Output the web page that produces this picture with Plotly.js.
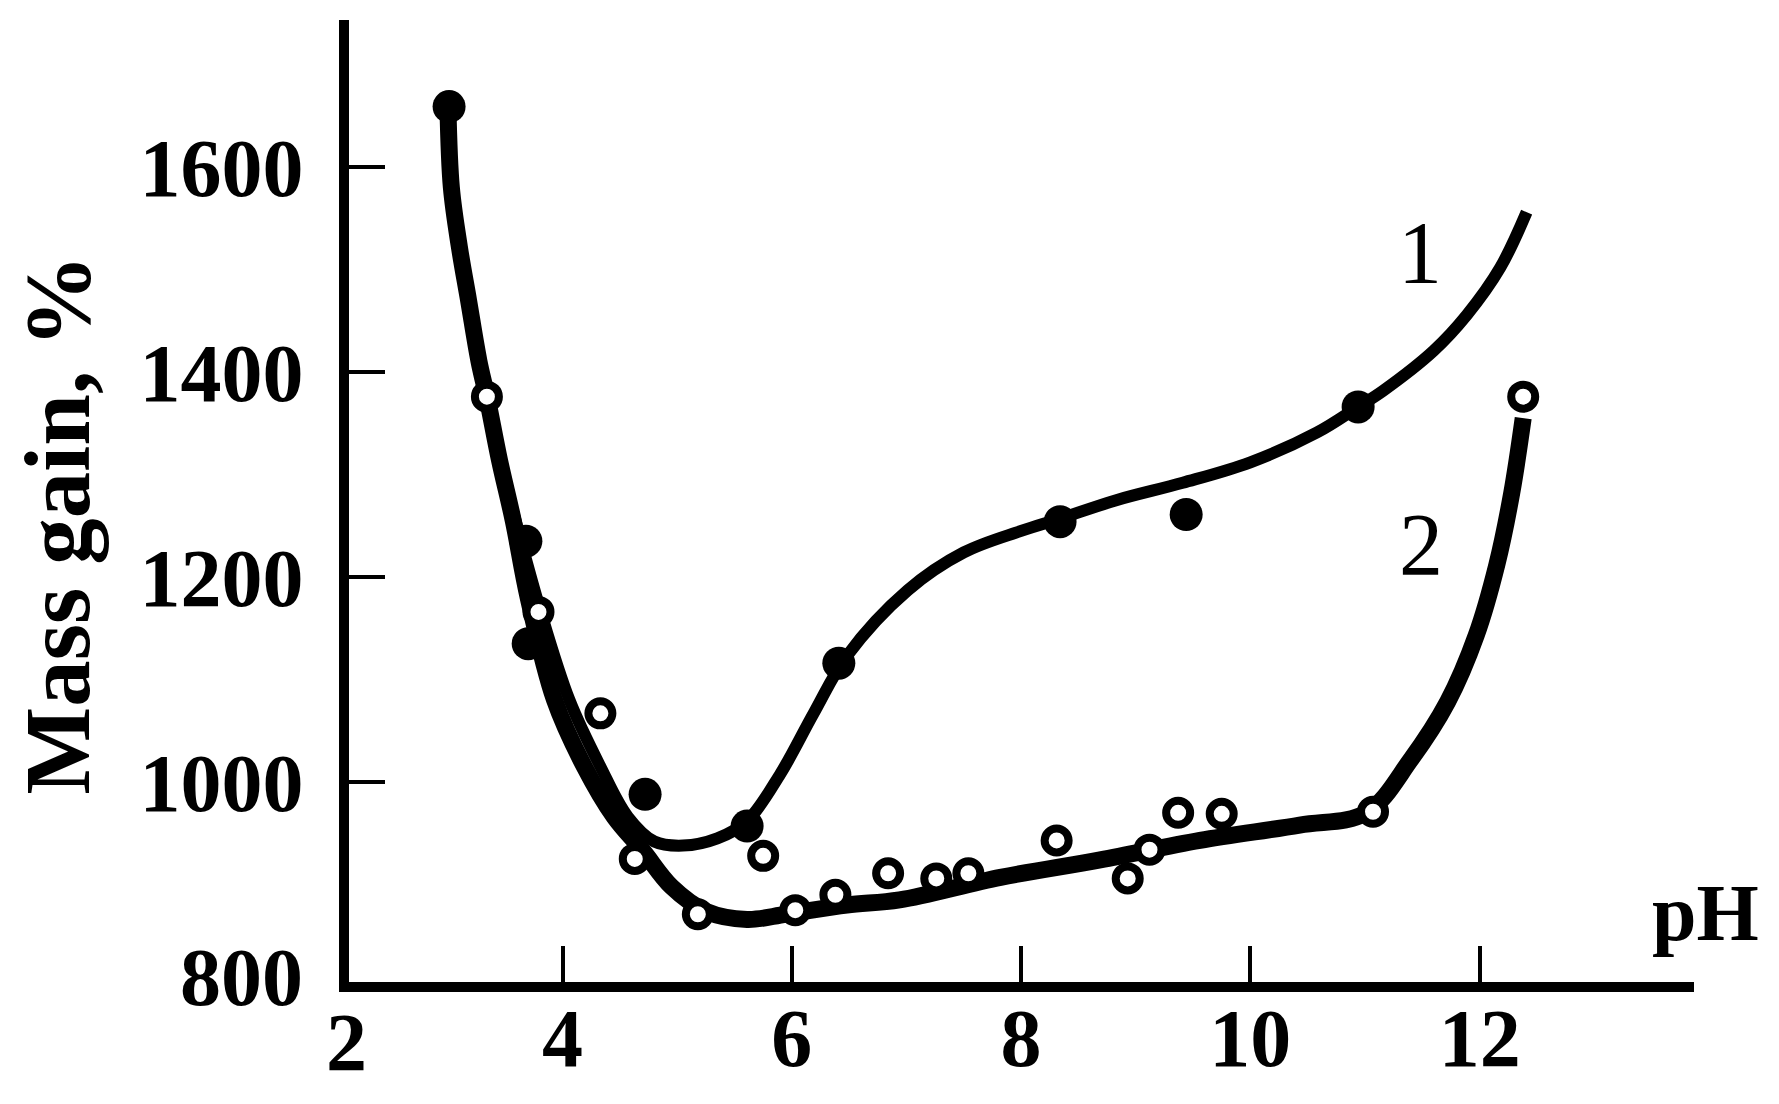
<!DOCTYPE html>
<html>
<head>
<meta charset="utf-8">
<script src="https://cdn.plot.ly/plotly-3.0.1.min.js"></script>
<style>
  html, body { margin: 0; padding: 0; background: #fff; }
  #chart { width: 1779px; height: 1104px; }
</style>
</head>
<body>
<div id="chart"></div>
<script>
// smooth fitted curves
var curve1_pH = [3.0, 3.03, 3.10, 3.18, 3.27, 3.34, 3.45, 3.59, 3.80, 4.06, 4.33, 4.57, 4.80, 5.05, 5.35, 5.61, 5.90, 6.19, 6.48, 7.01, 7.50, 8.0, 8.34, 8.83, 9.41, 10.0, 10.58, 10.94, 11.16, 11.6, 11.89, 12.18, 12.41];
var curve1_gain = [1659, 1580, 1522, 1470, 1411, 1376, 1314, 1255, 1170, 1080, 1015, 966, 942, 938, 945, 962, 1008, 1067, 1123, 1187, 1224, 1245, 1257, 1275, 1292, 1312, 1341, 1366, 1382, 1421, 1456, 1502, 1556];

var curve2_pH = [3.0, 3.03, 3.10, 3.18, 3.27, 3.34, 3.45, 3.57, 3.70, 3.93, 4.19, 4.45, 4.70, 4.95, 5.25, 5.61, 5.95, 6.48, 6.94, 7.82, 8.69, 9.56, 10.43, 11.01, 11.40, 11.72, 11.97, 12.15, 12.28, 12.38];
var curve2_gain = [1659, 1580, 1522, 1470, 1411, 1376, 1314, 1255, 1180, 1080, 1015, 966, 933, 898, 874, 866, 871, 880, 885, 907, 924, 943, 958, 970, 1022, 1078, 1143, 1212, 1282, 1355];

// measured points
var filled_pH = [3.01, 3.68, 3.70, 4.72, 5.61, 6.41, 8.34, 9.44, 10.94];
var filled_gain = [1659, 1235, 1135, 988, 957, 1116, 1254, 1261, 1366];

var open_pH = [3.34, 3.79, 4.33, 4.63, 5.18, 5.75, 6.03, 6.38, 6.84, 7.26, 7.54, 8.31, 8.93, 9.12, 9.37, 9.75, 11.07, 12.38];
var open_gain = [1376, 1166, 1067, 925, 871, 928, 875, 890, 911, 906, 911, 943, 906, 934, 970, 969, 971, 1376];

var xTicks = [4, 6, 8, 10, 12];
var yTicks = [1000, 1200, 1400, 1600];

var serif = "Liberation Serif, Times New Roman, serif";

var data = [
  {
    x: curve2_pH, y: curve2_gain,
    type: "scatter", mode: "lines",
    line: { color: "#000", width: 17, shape: "spline", smoothing: 1 },
    hoverinfo: "skip"
  },
  {
    x: curve1_pH, y: curve1_gain,
    type: "scatter", mode: "lines",
    line: { color: "#000", width: 12, shape: "spline", smoothing: 1 },
    hoverinfo: "skip"
  },
  {
    x: filled_pH, y: filled_gain,
    type: "scatter", mode: "markers",
    marker: { symbol: "circle", size: 33, color: "#000" }
  },
  {
    x: open_pH, y: open_gain,
    type: "scatter", mode: "markers",
    marker: { symbol: "circle", size: 24, color: "#fff", line: { color: "#000", width: 8 } }
  }
];

var tickFont = { family: serif, size: 82, color: "#000", weight: "bold" };

var layout = {
  width: 1779,
  height: 1104,
  margin: { l: 349, r: 85, t: 20, b: 122, pad: 0 },
  paper_bgcolor: "#fff",
  plot_bgcolor: "#fff",
  showlegend: false,
  xaxis: {
    range: [2.137, 13.87],
    tickvals: xTicks,
    ticks: "inside",
    ticklen: 36,
    tickwidth: 4,
    tickcolor: "#000",
    showline: true,
    linewidth: 10,
    linecolor: "#000",
    showgrid: false,
    zeroline: false,
    tickfont: tickFont,
    ticklabelstandoff: -24
  },
  yaxis: {
    range: [804.9, 1743.5],
    tickvals: yTicks,
    ticks: "inside",
    ticklen: 36,
    tickwidth: 4,
    tickcolor: "#000",
    showline: true,
    linewidth: 10,
    linecolor: "#000",
    showgrid: false,
    zeroline: false,
    tickfont: tickFont,
    ticklabelstandoff: 19
  },
  annotations: [
    { text: "2", xref: "paper", yref: "paper", x: -0.0015, y: -0.0627, xanchor: "center", yanchor: "middle", showarrow: false, font: tickFont },
    { text: "800", xref: "paper", yref: "paper", x: -0.0327, y: 0.0049, xanchor: "right", yanchor: "middle", showarrow: false, font: tickFont },
    { text: "Mass gain, %", xref: "paper", yref: "paper", x: -0.2165, y: 0.4753, textangle: -90, xanchor: "center", yanchor: "middle", showarrow: false,
      font: { family: serif, size: 93, color: "#000", weight: "bold" } },
    { text: "pH", xref: "paper", yref: "paper", x: 1.0086, y: 0.0714, xanchor: "center", yanchor: "middle", showarrow: false,
      font: { family: serif, size: 80, color: "#000", weight: "bold" } },
    { text: "1", xref: "x", yref: "y", x: 11.48, y: 1517, xanchor: "center", yanchor: "middle", showarrow: false,
      font: { family: serif, size: 88, color: "#000" } },
    { text: "2", xref: "x", yref: "y", x: 11.49, y: 1232, xanchor: "center", yanchor: "middle", showarrow: false,
      font: { family: serif, size: 88, color: "#000" } }
  ]
};

Plotly.newPlot("chart", data, layout, { staticPlot: true });
</script>
</body>
</html>
